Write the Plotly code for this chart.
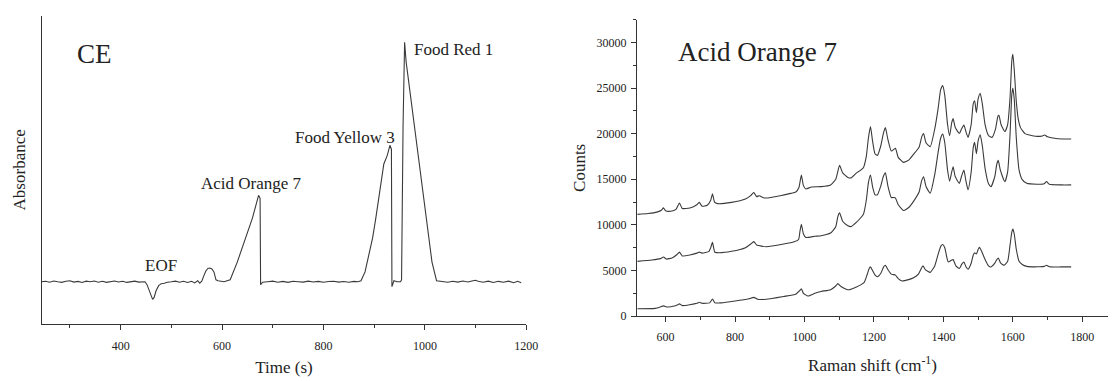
import plotly.graph_objects as go

# ---- Capillary electrophoresis trace (time in s, absorbance in arbitrary units) ----
ce_time = [244, 252, 260, 268, 276, 284, 292, 300, 308, 316, 324, 332, 340, 348, 356,
           364, 372, 380, 388, 396, 404, 412, 420, 428, 436, 444, 448, 452, 456, 460,
           463, 466, 470, 475, 480, 486, 492, 500, 508, 516, 524, 532, 540, 546, 552,
           556, 560, 564, 568, 572, 576, 580, 584, 588, 592, 598, 604, 610, 616, 630,
           645, 660, 672, 675, 676, 680, 690, 700, 710, 720, 730, 740, 750, 760, 770,
           780, 790, 800, 810, 820, 830, 840, 850, 860, 868, 874, 882, 890, 897, 903,
           908, 913, 919, 926, 931, 934, 935, 939, 945, 952, 954, 957, 960, 963, 968,
           978, 991, 1004, 1014, 1023, 1033, 1045, 1055, 1065, 1075, 1085, 1095, 1100,
           1105, 1115, 1125, 1135, 1145, 1155, 1165, 1175, 1183, 1190]
ce_abs = [0.0, 0.05, -0.05, 0.08, 0.0, -0.06, 0.05, 0.1, -0.04, 0.03, -0.08, 0.06, 0.0,
          0.07, -0.05, 0.04, -0.06, 0.02, 0.08, -0.03, 0.05, -0.07, 0.02, 0.06, -0.04,
          0.03, 0.0, -0.3, -0.8, -1.4, -1.8, -1.6, -0.9, -0.4, -0.2, -0.15, -0.05, 0.0,
          0.06, -0.05, 0.05, -0.08, 0.04, -0.12, 0.1, -0.15, 0.05, 0.6, 1.1, 1.35, 1.4,
          1.3, 1.0, 0.2, 0.1, 0.05, 0.0, 0.1, 0.2, 2.0, 4.2, 6.5, 8.8, 8.5, -0.3, -0.05,
          0.0, 0.06, -0.05, 0.04, -0.06, 0.05, 0.0, -0.04, 0.06, -0.03, 0.04, -0.05,
          0.03, 0.05, -0.04, 0.02, -0.06, 0.04, 0.0, 0.1, 1.0, 2.7, 4.5, 6.4, 8.2, 10.0,
          12.0, 12.9, 13.9, 13.5, -0.5, 0.1, 0.0, 0.0, 0.2, 16.0, 24.4, 22.4, 20.4,
          16.7, 11.7, 6.0, 2.0, 0.1, 0.0, -0.06, 0.05, -0.04, 0.07, -0.03, 0.1, 0.15,
          0.05, -0.05, 0.06, -0.07, 0.04, -0.05, 0.06, -0.1, 0.05, -0.1]

# ---- Raman spectra of Acid Orange 7 (three stacked spectra) ----
shift_top = [519, 550, 575, 588, 594, 600, 615, 630, 640, 648, 670, 690, 697, 705, 720,
             730, 735, 741, 750, 790, 830, 845, 854, 862, 870, 880, 890, 930, 960, 975,
             984, 991, 997, 1004, 1020, 1048, 1075, 1090, 1101, 1110, 1125, 1134, 1150,
             1162, 1170, 1178, 1184, 1190, 1196, 1203, 1210, 1220, 1227, 1233, 1240,
             1250, 1258, 1262, 1270, 1285, 1300, 1314, 1330, 1338, 1343, 1350, 1362,
             1375, 1385, 1392, 1398, 1404, 1412, 1418, 1424, 1428, 1434, 1446, 1452,
             1459, 1465, 1471, 1480, 1486, 1490, 1495, 1500, 1506, 1512, 1520, 1530,
             1540, 1550, 1557, 1560, 1566, 1577, 1585, 1592, 1597, 1600, 1604, 1610,
             1616, 1622, 1635, 1645, 1670, 1685, 1692, 1700, 1730, 1768]
counts_top = [11150, 11250, 11400, 11600, 11860, 11550, 11500, 11700, 12400, 11800,
              11850, 12200, 12470, 12050, 12150, 12700, 13410, 12500, 12330, 12470,
              12830, 13200, 13550, 13100, 13200, 13000, 12940, 13200, 13450, 13600,
              14100, 15460, 14300, 13940, 14150, 14190, 14380, 15000, 16530, 15700,
              15200, 15150, 15700, 16000, 16300, 17500, 19500, 20770, 19200, 17800,
              17620, 18700, 20000, 20660, 19400, 18100, 18300, 18400, 17400, 16850,
              17100, 17730, 18500, 19700, 20010, 19000, 18580, 20500, 22800, 24800,
              25270, 24200, 21000, 19770, 21200, 21660, 20700, 20010, 20500, 20950,
              20200, 19590, 21000, 23300, 23600, 22300, 23800, 24430, 23300, 21000,
              19800, 19590, 20500, 21900, 22020, 21000, 20230, 21000, 24000, 28000,
              28740, 27000, 23500, 21500, 20660, 20000, 19880, 19700, 19750, 19850,
              19650, 19450, 19410]

shift_mid = [519, 560, 585, 594, 602, 620, 633, 640, 648, 670, 690, 697, 705, 725, 730,
             735, 742, 755, 790, 830, 845, 854, 862, 868, 890, 940, 970, 983, 987, 991,
             997, 1004, 1030, 1048, 1075, 1090, 1096, 1101, 1110, 1125, 1134, 1150,
             1162, 1170, 1178, 1184, 1190, 1196, 1203, 1210, 1220, 1227, 1233, 1240,
             1250, 1258, 1262, 1270, 1285, 1300, 1314, 1330, 1337, 1343, 1350, 1362,
             1375, 1385, 1392, 1398, 1404, 1412, 1418, 1424, 1428, 1434, 1446, 1452,
             1459, 1465, 1471, 1480, 1486, 1490, 1495, 1500, 1506, 1512, 1520, 1530,
             1537, 1548, 1554, 1558, 1564, 1577, 1585, 1592, 1597, 1600, 1604, 1610,
             1618, 1627, 1640, 1670, 1690, 1697, 1705, 1740, 1768]
counts_mid = [6000, 6150, 6300, 6470, 6250, 6400, 6750, 7010, 6600, 6700, 6900, 7010,
              6900, 7100, 7500, 8080, 7000, 6940, 7100, 7500, 7900, 8160, 7800, 7730,
              7600, 7900, 8150, 8400, 9300, 10070, 9000, 8620, 8750, 8810, 9100, 9800,
              10900, 11320, 10400, 9900, 9810, 10300, 10780, 11200, 12700, 14600, 15460,
              14200, 13300, 13300, 14300, 15300, 15700, 14300, 13000, 13000, 12940,
              12200, 11580, 11900, 12580, 13600, 14800, 15280, 14200, 13470, 15500,
              18000, 19500, 19950, 19000, 16000, 14800, 15800, 16360, 15300, 14550,
              15300, 16000, 14800, 13850, 15800, 18500, 19050, 17800, 19200, 19880,
              18700, 16200, 14500, 14190, 15300, 16700, 17070, 16000, 14730, 15800,
              20000, 24300, 25000, 23800, 19500, 16000, 14960, 14550, 14450, 14500,
              14750, 14450, 14380, 14380]

shift_low = [519, 570, 585, 594, 605, 625, 635, 640, 648, 670, 690, 697, 705, 727, 735,
             742, 760, 800, 840, 854, 865, 890, 940, 975, 985, 991, 997, 1010, 1030,
             1048, 1075, 1090, 1096, 1105, 1120, 1129, 1150, 1162, 1172, 1180, 1186,
             1190, 1196, 1204, 1210, 1220, 1228, 1233, 1240, 1250, 1262, 1270, 1281,
             1300, 1314, 1328, 1336, 1341, 1348, 1362, 1375, 1385, 1393, 1398, 1404,
             1410, 1414, 1422, 1428, 1436, 1446, 1453, 1459, 1465, 1471, 1480, 1486,
             1490, 1495, 1500, 1504, 1510, 1520, 1530, 1537, 1548, 1554, 1558, 1565,
             1575, 1585, 1592, 1597, 1600, 1604, 1610, 1618, 1627, 1640, 1670, 1690,
             1697, 1705, 1740, 1768]
counts_low = [800, 850, 1000, 1120, 1000, 1100, 1250, 1340, 1150, 1250, 1400, 1510,
              1400, 1450, 1870, 1450, 1450, 1650, 1900, 2050, 1850, 1850, 2150, 2400,
              2750, 2990, 2500, 2200, 2500, 2700, 2900, 3300, 3560, 3250, 2950, 2880,
              3200, 3420, 3700, 4500, 5200, 5390, 5000, 4450, 4310, 4700, 5400, 5570,
              5100, 4600, 4490, 4100, 3850, 4000, 4200, 4600, 5200, 5500, 5100, 4790,
              5500, 6800, 7700, 7840, 7500, 6400, 5930, 6100, 6190, 5500, 5220, 5700,
              5930, 5400, 5140, 5800, 6700, 6940, 6800, 7300, 7540, 7100, 6200, 5500,
              5390, 5800, 6200, 6360, 5800, 5570, 6000, 7800, 9200, 9530, 9000, 7300,
              6000, 5650, 5450, 5400, 5450, 5570, 5400, 5390, 5390]

time_ticks = [400, 600, 800, 1000, 1200]
shift_ticks = [600, 800, 1000, 1200, 1400, 1600, 1800]
count_ticks = [0, 5000, 10000, 15000, 20000, 25000, 30000]

SERIF = "Liberation Serif"
INK = "#333333"
LINE = dict(color="#3a3a3a", width=1.1)

fig = go.Figure()
fig.add_trace(go.Scatter(x=ce_time, y=ce_abs, mode="lines", line=LINE,
                         xaxis="x", yaxis="y", showlegend=False))
for sx, sy in [(shift_top, counts_top), (shift_mid, counts_mid), (shift_low, counts_low)]:
    fig.add_trace(go.Scatter(x=sx, y=sy, mode="lines",
                             line=dict(LINE, shape="spline", smoothing=0.5),
                             xaxis="x2", yaxis="y2", showlegend=False))

axis_common = dict(showline=True, linecolor=INK, linewidth=1.3, showgrid=False,
                   zeroline=False, ticks="outside", tickcolor=INK, ticklen=5,
                   tickfont=dict(family=SERIF, size=12, color="#222"),
                   title_font=dict(family=SERIF, size=17, color="#222"))

fig.update_layout(
    width=1120, height=381,
    margin=dict(l=0, r=0, t=0, b=0),
    paper_bgcolor="white", plot_bgcolor="white",
    font=dict(family=SERIF, color="#222"),
    xaxis=dict(axis_common, domain=[42 / 1120, 532 / 1120], range=[244, 1200],
               tickvals=time_ticks, ticklabelstandoff=6,
               minor=dict(dtick=100, ticks="outside", ticklen=3, tickcolor=INK, tick0=0),
               title=dict(text="Time (s)", standoff=8), anchor="y"),
    yaxis=dict(axis_common, domain=[51 / 381, 365 / 381], range=[-4.3, 27.1],
               showticklabels=False, ticks="",
               title=dict(text="Absorbance", standoff=10), anchor="x"),
    xaxis2=dict(axis_common, domain=[644 / 1120, 1.0], range=[518, 1874],
                tickvals=shift_ticks, ticklabelstandoff=4,
                minor=dict(dtick=100, ticks="outside", ticklen=3, tickcolor=INK, tick0=0),
                title=dict(text="Raman shift (cm<sup>-1</sup>)", standoff=16), anchor="y2"),
    yaxis2=dict(axis_common, domain=[59 / 381, 361 / 381], range=[0, 32500],
                tickvals=count_ticks, tickformat="d", ticklabelstandoff=2,
                minor=dict(dtick=2500, ticks="outside", ticklen=3, tickcolor=INK, tick0=0),
                title=dict(text="Counts", standoff=6), anchor="x2"),
)

label_font = dict(family=SERIF, size=17, color="#222")
fig.add_annotation(x=310, y=23.2, xref="x", yref="y", text="CE", showarrow=False,
                   xanchor="left", font=dict(family=SERIF, size=27, color="#222"))
fig.add_annotation(x=479, y=1.7, xref="x", yref="y", text="EOF", showarrow=False,
                   font=label_font)
fig.add_annotation(x=659, y=10.0, xref="x", yref="y", text="Acid Orange 7",
                   showarrow=False, font=label_font)
fig.add_annotation(x=842, y=14.7, xref="x", yref="y", text="Food Yellow 3",
                   showarrow=False, font=label_font)
fig.add_annotation(x=975, y=23.7, xref="x", yref="y", text="Food Red 1",
                   showarrow=False, xanchor="left", font=label_font)
fig.add_annotation(x=630, y=28930, xref="x2", yref="y2", text="Acid Orange 7",
                   showarrow=False, xanchor="left",
                   font=dict(family=SERIF, size=27, color="#222"))

fig.write_html("out.html")
